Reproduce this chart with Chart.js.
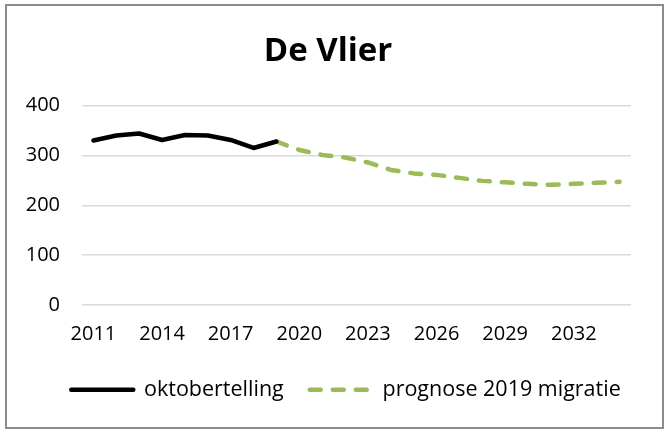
<!DOCTYPE html>
<html>
<head>
<meta charset="utf-8">
<script src="https://cdn.jsdelivr.net/npm/chart.js@4"></script>
<style>
  html, body { margin: 0; padding: 0; background: #fff; }
  #frame {
    position: absolute; left: 5px; top: 4px;
    width: 655px; height: 421px;
    border: 2px solid #8c8c8c;
  }
  #chart { display: block; }
</style>
</head>
<body>
<div id="frame"><canvas id="chart" width="655" height="421"></canvas></div>
<script>
const years = [2011, 2012, 2013, 2014, 2015, 2016, 2017, 2018, 2019, 2020, 2021, 2022,
  2023, 2024, 2025, 2026, 2027, 2028, 2029, 2030, 2031, 2032, 2033, 2034];

// oktobertelling (counted), 2011-2019
const telling = [330, 340, 344, 331, 341, 340, 331, 315, 328];
// prognose 2019 migratie, 2019-2034
const prognose = [328, 311, 301, 296, 286, 271, 264, 261, 255, 249, 246, 243, 241, 243, 245, 247];

const yTicks = [0, 100, 200, 300, 400];

const pad = (arr, before) => {
  const out = new Array(years.length).fill(null);
  arr.forEach((v, i) => { out[before + i] = v; });
  return out;
};

const FONT = "'Open Sans', 'Noto Sans', sans-serif";

// nudge the legend row a bit right/down to where it sits in the original
const legendNudge = {
  id: "legendNudge",
  afterLayout(chart) {
    const lg = chart.legend;
    if (!lg) return;
    lg.left += 18; lg.right += 18;
    lg.top += 7; lg.bottom += 7;
  },
};

new Chart(document.getElementById("chart"), {
  type: "line",
  data: {
    labels: years.map(String),
    datasets: [
      {
        label: "oktobertelling",
        data: pad(telling, 0),
        borderColor: "#000000",
        backgroundColor: "#000000",
        borderWidth: 4.5,
        borderCapStyle: "round",
        borderJoinStyle: "round",
        pointRadius: 0,
        tension: 0,
      },
      {
        label: "prognose 2019 migratie",
        data: pad(prognose, telling.length - 1),
        borderColor: "#9bbb59",
        backgroundColor: "#9bbb59",
        borderWidth: 4.5,
        borderDash: [11, 12],
        borderCapStyle: "round",
        borderJoinStyle: "round",
        pointRadius: 0,
        tension: 0,
      },
    ],
  },
  plugins: [legendNudge],
  options: {
    responsive: false,
    animation: false,
    layout: { padding: { left: 18, right: 31, top: 14, bottom: 23.5 } },
    plugins: {
      title: {
        display: true,
        text: "De Vlier",
        color: "#000",
        font: { family: FONT, size: 33, weight: "bold" },
        padding: { top: 12, bottom: 34 },
      },
      legend: {
        position: "bottom",
        labels: {
          color: "#000",
          font: { family: FONT, size: 21.5 },
          usePointStyle: true,
          pointStyle: "line",
          pointStyleWidth: 62,
          padding: 26,
          // point-style legend items do not carry the dataset dash, so set it here
          generateLabels: (chart) => chart.data.datasets.map((ds, i) => ({
            text: ds.label,
            datasetIndex: i,
            hidden: !chart.isDatasetVisible(i),
            pointStyle: "line",
            strokeStyle: ds.borderColor,
            fillStyle: ds.borderColor,
            fontColor: "#000",
            lineWidth: 4.5,
            lineDash: ds.borderDash || [],
            lineCap: "round",
          })),
        },
      },
      tooltip: { enabled: false },
    },
    scales: {
      x: {
        offset: true,
        grid: { display: false },
        border: { display: false },
        afterFit: (scale) => { scale.height -= 9; },
        ticks: {
          color: "#000",
          font: { family: FONT, size: 20 },
          autoSkip: false,
          maxRotation: 0,
          padding: 9,
          callback: (v, i) => (i % 3 === 0 ? years[i] : ""),
        },
      },
      y: {
        min: 0,
        max: 400,
        afterBuildTicks: (axis) => { axis.ticks = yTicks.map((v) => ({ value: v })); },
        afterFit: (scale) => { scale.width = 57; },
        grid: { color: "#d9d9d9", lineWidth: 1.5, drawTicks: false },
        border: { display: false },
        ticks: {
          color: "#000",
          font: { family: FONT, size: 20 },
          padding: 22,
        },
      },
    },
  },
});
</script>
</body>
</html>
